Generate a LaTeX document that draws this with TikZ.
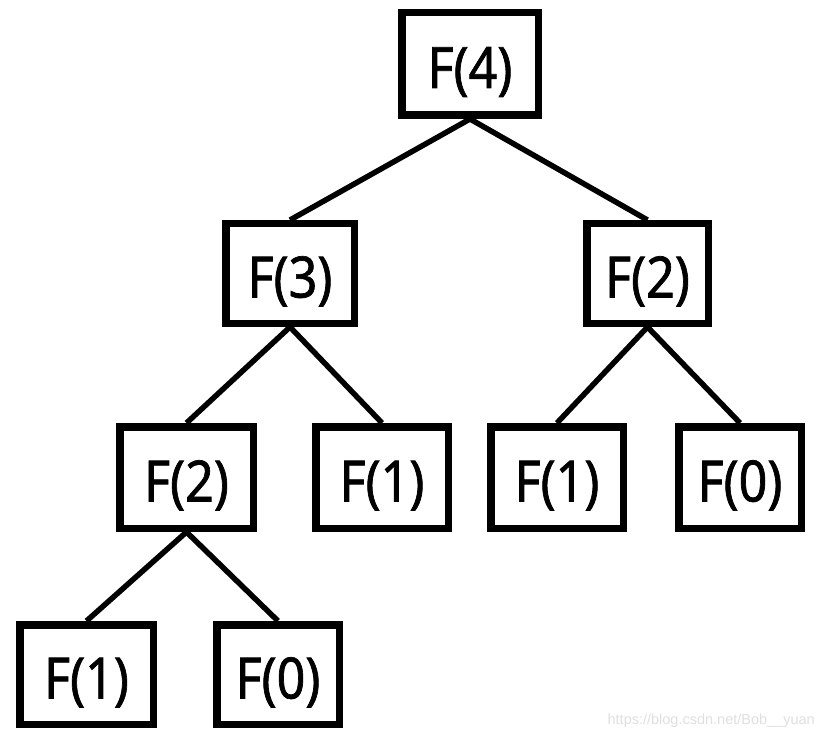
\documentclass[tikz,border=0pt]{standalone}
\usepackage{fontspec}
\setmainfont{Noto Sans}[FakeStretch=0.88,FakeBold=1.2]
\newfontfamily\wmfont{Liberation Sans}
\begin{document}
\begin{tikzpicture}[x=1pt,y=-1pt,
  fbox/.style={draw, line width=7.5pt, inner sep=0pt, fill=white,
    text height=48pt, text depth=0pt,
    font=\fontsize{57}{60}\selectfont},
  link/.style={line width=5.5pt}]
\useasboundingbox (0,0) rectangle (823,741);
\fill[white] (0,0) rectangle (823,741);
\node[fbox, minimum width=136.5pt, minimum height=102.5pt] (f4)  at (470,64)    {F(4)};
\node[fbox, minimum width=128.5pt, minimum height=99.5pt]  (f3)  at (290,273.5) {F(3)};
\node[fbox, minimum width=121.5pt, minimum height=99.5pt]  (f2r) at (647.5,273.5) {F(2)};
\node[fbox, minimum width=133.5pt, minimum height=101.5pt] (f2l) at (186.5,477.5) {F(2)};
\node[fbox, minimum width=132.5pt, minimum height=101.5pt] (f1m) at (382,477.5) {F(1)};
\node[fbox, minimum width=132.5pt, minimum height=101.5pt] (f1r) at (557,477.5) {F(1)};
\node[fbox, minimum width=122.5pt, minimum height=101.5pt] (f0r) at (740,477.5) {F(0)};
\node[fbox, minimum width=133.5pt, minimum height=99.5pt]  (f1b) at (86.5,674.5) {F(1)};
\node[fbox, minimum width=122.5pt, minimum height=99.5pt]  (f0b) at (278,674.5) {F(0)};
\draw[link] (f4.south) -- (f3.north);
\draw[link] (f4.south) -- (f2r.north);
\draw[link] (f3.south) -- (f2l.north);
\draw[link] (f3.south) -- (f1m.north);
\draw[link] (f2r.south) -- (f1r.north);
\draw[link] (f2r.south) -- (f0r.north);
\draw[link] (f2l.south) -- (f1b.north);
\draw[link] (f2l.south) -- (f0b.north);
\node[anchor=east, text=black!12, font=\wmfont\fontsize{14.5}{16}\selectfont, inner sep=0pt] (wm) at (815,721) {https://blog.csdn.net/Bob\_\_yuan};
\end{tikzpicture}
\end{document}
